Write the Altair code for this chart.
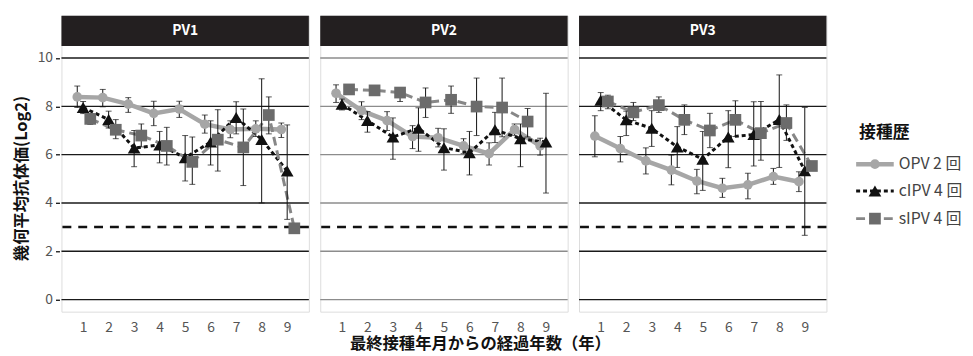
import altair as alt
import pandas as pd

FONT = "Noto Sans CJK JP"

panels = ["PV1", "PV2", "PV3"]
years = [1, 2, 3, 4, 5, 6, 7, 8, 9]
series = ["OPV 2回", "cIPV 4回", "sIPV 4回"]
legend_labels = ["OPV 2 回", "cIPV 4 回", "sIPV 4 回"]
y_ticks = [0, 2, 4, 6, 8, 10]
threshold = 3

# ---- PV1 ----
pv1_opv = [8.39, 8.36, 8.09, 7.71, 7.89, 7.26, 7.04, 7.07, 7.04]
pv1_opv_lo = [7.95, 7.98, 7.75, 7.20, 7.54, 6.89, 6.70, 6.75, 6.71]
pv1_opv_hi = [8.84, 8.70, 8.36, 8.21, 8.21, 7.64, 7.40, 7.40, 7.31]
pv1_cipv = [7.95, 7.45, 6.27, 6.40, 5.87, 6.52, 7.54, 6.63, 5.32]
pv1_cipv_lo = [7.70, 7.10, 5.50, 5.66, 4.91, 5.57, 6.86, 4.00, 3.32]
pv1_cipv_hi = [8.20, 7.80, 7.00, 6.96, 6.79, 7.40, 8.19, 9.14, 7.23]
pv1_sipv = [7.48, 7.03, 6.79, 6.36, 5.70, 6.62, 6.30, 7.64, 2.95]
pv1_sipv_lo = [7.25, 6.66, 6.32, 5.57, 4.77, 5.32, 4.72, 6.86, None]
pv1_sipv_hi = [7.70, 7.45, 7.27, 7.13, 6.73, 7.86, 7.89, 8.39, None]

# ---- PV2 ----
pv2_opv = [8.54, 7.82, 7.41, 6.75, 6.70, 6.36, 6.04, 7.04, 6.36]
pv2_opv_lo = [8.16, 7.45, 7.00, 6.25, 6.32, 6.04, 5.57, 6.80, 5.98]
pv2_opv_hi = [8.89, 8.19, 7.78, 7.20, 7.09, 6.66, 6.49, 7.27, 6.68]
pv2_cipv = [8.09, 7.41, 6.73, 7.09, 6.29, 6.08, 7.03, 6.66, 6.52]
pv2_cipv_lo = [7.85, 6.93, 5.81, 6.14, 5.36, 5.16, 6.50, 5.50, 4.41]
pv2_cipv_hi = [8.30, 7.78, 7.52, 7.94, 7.07, 6.96, 7.75, 7.27, 8.54]
pv2_sipv = [8.70, 8.66, 8.57, 8.16, 8.27, 7.99, 7.95, 7.37, None]
pv2_sipv_lo = [8.55, 8.55, 8.20, 7.54, 7.71, 6.79, 6.74, 6.73, None]
pv2_sipv_hi = [8.85, 8.80, 8.77, 8.76, 8.84, 9.17, 9.17, 7.91, None]

# ---- PV3 ----
pv3_opv = [6.77, 6.25, 5.74, 5.36, 4.91, 4.61, 4.75, 5.09, 4.88]
pv3_opv_lo = [5.91, 5.70, 5.20, 4.75, 4.38, 4.23, 4.17, 4.77, 4.47]
pv3_opv_hi = [7.61, 6.75, 6.28, 5.98, 5.39, 5.02, 5.23, 5.43, 5.29]
pv3_cipv = [8.25, 7.44, 7.09, 6.32, 5.81, 6.73, 6.83, 7.45, 5.33]
pv3_cipv_lo = [7.82, 6.79, 6.34, 5.47, 4.52, 5.46, 5.53, 5.47, 2.66]
pv3_cipv_hi = [8.57, 7.80, 7.82, 7.16, 6.96, 7.82, 8.19, 9.30, 7.95]
pv3_sipv = [8.20, 7.75, 8.05, 7.44, 7.00, 7.44, 6.89, 7.31, 5.53]
pv3_sipv_lo = [7.90, 7.41, 7.75, 6.83, 6.29, 6.75, 5.77, 6.59, None]
pv3_sipv_hi = [8.46, 8.16, 8.39, 8.06, 7.71, 8.23, 8.20, 8.06, None]

values = {
    ("PV1", "OPV 2回"): (pv1_opv, pv1_opv_lo, pv1_opv_hi),
    ("PV1", "cIPV 4回"): (pv1_cipv, pv1_cipv_lo, pv1_cipv_hi),
    ("PV1", "sIPV 4回"): (pv1_sipv, pv1_sipv_lo, pv1_sipv_hi),
    ("PV2", "OPV 2回"): (pv2_opv, pv2_opv_lo, pv2_opv_hi),
    ("PV2", "cIPV 4回"): (pv2_cipv, pv2_cipv_lo, pv2_cipv_hi),
    ("PV2", "sIPV 4回"): (pv2_sipv, pv2_sipv_lo, pv2_sipv_hi),
    ("PV3", "OPV 2回"): (pv3_opv, pv3_opv_lo, pv3_opv_hi),
    ("PV3", "cIPV 4回"): (pv3_cipv, pv3_cipv_lo, pv3_cipv_hi),
    ("PV3", "sIPV 4回"): (pv3_sipv, pv3_sipv_lo, pv3_sipv_hi),
}

grid_color = {"PV1": "#1a1a1a", "PV2": "#8c8c8c", "PV3": "#1a1a1a"}

# ---- styles (kept apart from data) ----
STYLE = {
    "OPV 2回": dict(line="#a6a6a6", width=4.5, dash=None, mark="#a6a6a6",
                   shape="circle", size=95, off=-0.23),
    "cIPV 4回": dict(line="#111111", width=3, dash=[4, 3], mark="#111111",
                    shape="triangle-up", size=165, off=0.0),
    "sIPV 4回": dict(line="#878787", width=3, dash=[9, 5], mark="#6b6b6b",
                    shape="square", size=140, off=0.28),
}

rows = []
for (p, s), (m, lo, hi) in values.items():
    for x, v, l, h in zip(years, m, lo, hi):
        if v is not None:
            rows.append(dict(kind="pt", panel=p, series=s, x=x, y=v))
        if l is not None and h is not None:
            rows.append(dict(kind="err", panel=p, series=s, x=x, lo=l, hi=h))
for p in panels:
    for t in y_ticks:
        rows.append(dict(kind="grid", panel=p, y=t, gcol=grid_color[p]))
    rows.append(dict(kind="thr", panel=p, y=threshold))
    rows.append(dict(kind="hdr", panel=p))
df = pd.DataFrame(rows)

W, H = 250, 299
XMIN, XMAX = 0.15, 9.85
YMIN, YMAX = -0.5, 11.75
HDR_LO = 10.5

xscale = alt.Scale(domain=[XMIN, XMAX], nice=False, zero=False)
yscale = alt.Scale(domain=[YMIN, YMAX], nice=False, zero=False)
xaxis = alt.Axis(values=years, title=None, ticks=False, domain=False, grid=False,
                 labelFontSize=14, labelColor="#555555", labelPadding=8, format="d",
                 labelFont=FONT)
yaxis = alt.Axis(values=y_ticks, title="幾何平均抗体価(Log2)", grid=False, domain=False,
                 tickSize=4, tickColor="#111111", tickWidth=1.3,
                 labelFontSize=14, labelColor="#555555", labelPadding=3, labelFont=FONT,
                 titleFontSize=16.5, titleFontWeight="bold", titleColor="#111111",
                 titlePadding=8, titleY=164, titleFont=FONT)

base = alt.Chart()

grid = base.mark_rule(strokeWidth=1.4).encode(
    y=alt.Y("y:Q", scale=yscale, axis=yaxis),
    color=alt.Color("gcol:N", scale=None),
).transform_filter(alt.datum.kind == "grid")

thr = base.mark_rule(strokeWidth=2.5, strokeDash=[9, 7], color="#111111").encode(
    y=alt.Y("y:Q", scale=yscale, axis=yaxis),
).transform_filter(alt.datum.kind == "thr")

hdr = base.mark_rect(color="#231f20").encode(
    x=alt.value(0), x2=alt.value(W),
    y=alt.datum(YMAX), y2=alt.datum(HDR_LO),
).transform_filter(alt.datum.kind == "hdr")

hdr_text = base.mark_text(color="white", fontWeight="bold", fontSize=14, font=FONT,
                          baseline="middle").encode(
    x=alt.value(W / 2),
    y=alt.datum((YMAX + HDR_LO) / 2),
    text="panel:N",
).transform_filter(alt.datum.kind == "hdr")

line_layers, err_layers, pt_layers = [], [], []
for s in series:
    st = STYLE[s]
    sel = (alt.datum.series == s)
    calc = {"xo": f"datum.x + ({st['off']})"}
    lkw = dict(color=st["line"], strokeWidth=st["width"])
    if st["dash"]:
        lkw["strokeDash"] = st["dash"]
    line_layers.append(
        base.mark_line(**lkw).encode(
            x=alt.X("xo:Q", scale=xscale, axis=xaxis),
            y=alt.Y("y:Q", scale=yscale, axis=yaxis),
            order="x:Q",
        ).transform_filter(alt.datum.kind == "pt").transform_filter(sel)
        .transform_calculate(**calc)
    )
    eb = base.transform_filter(alt.datum.kind == "err").transform_filter(sel).transform_calculate(**calc)
    err_layers.append(
        eb.mark_rule(color="#111111", strokeWidth=1).encode(
            x=alt.X("xo:Q", scale=xscale, axis=xaxis),
            y=alt.Y("lo:Q", scale=yscale, axis=yaxis),
            y2="hi:Q",
        )
    )
    for f in ["lo", "hi"]:
        err_layers.append(
            eb.mark_tick(color="#111111", orient="horizontal", size=6, thickness=1).encode(
                x=alt.X("xo:Q", scale=xscale, axis=xaxis),
                y=alt.Y(f"{f}:Q", scale=yscale, axis=yaxis),
            )
        )
    pt_layers.append(
        base.mark_point(shape=st["shape"], size=st["size"], filled=True,
                        color=st["mark"], opacity=1).encode(
            x=alt.X("xo:Q", scale=xscale, axis=xaxis),
            y=alt.Y("y:Q", scale=yscale, axis=yaxis),
        ).transform_filter(alt.datum.kind == "pt").transform_filter(sel)
        .transform_calculate(**calc)
    )

layered = alt.layer(grid, thr, hdr, hdr_text, *line_layers, *err_layers, *pt_layers,
                    data=df).properties(width=W, height=H)

facet = layered.facet(
    column=alt.Column("panel:N", title=None, header=alt.Header(labels=False),
                      sort=panels),
    spacing=7.5,
)

# ---- manual legend ----
legend_title = "接種歴"
LEG_W = 110
leg_row_y = [150, 177, 205]
leg_title_y = 119
leg_df = pd.DataFrame(
    [dict(kind="item", key=s, label=lab, ly=yy)
     for s, lab, yy in zip(series, legend_labels, leg_row_y)]
    + [dict(kind="title", key="", label=legend_title, ly=leg_title_y)]
)
ly = alt.Scale(domain=[H, 0], nice=False, zero=False)
lbase = alt.Chart(leg_df)
leg_layers = [
    lbase.mark_text(fontSize=17, fontWeight="bold", font=FONT, align="left",
                    baseline="middle", color="#111111").encode(
        x=alt.value(8), y=alt.Y("ly:Q", scale=ly, axis=None), text="label:N",
    ).transform_filter(alt.datum.kind == "title")
]
for s in series:
    st = STYLE[s]
    sel = (alt.datum.key == s)
    lkw = dict(color=st["line"], strokeWidth=st["width"])
    if st["dash"]:
        lkw["strokeDash"] = st["dash"]
    leg_layers.append(
        lbase.mark_rule(**lkw).encode(
            x=alt.value(5), x2=alt.value(43), y=alt.Y("ly:Q", scale=ly, axis=None),
        ).transform_filter(sel)
    )
    leg_layers.append(
        lbase.mark_point(shape=st["shape"], size=st["size"], filled=True,
                         color=st["mark"], opacity=1).encode(
            x=alt.value(24), y=alt.Y("ly:Q", scale=ly, axis=None),
        ).transform_filter(sel)
    )
    leg_layers.append(
        lbase.mark_text(fontSize=16, font=FONT, align="left", baseline="middle",
                        color="#444444").encode(
            x=alt.value(48), y=alt.Y("ly:Q", scale=ly, axis=None), text="label:N",
        ).transform_filter(sel)
    )
legend = alt.layer(*leg_layers).properties(
    width=LEG_W, height=H, view=alt.ViewBackground(stroke="transparent"))

chart = alt.hconcat(facet, legend, spacing=22).properties(
    title=alt.TitleParams("最終接種年月からの経過年数（年）", orient="bottom",
                          anchor="start", dx=340, offset=2, fontSize=16.5,
                          fontWeight="bold", color="#111111", font=FONT),
    padding={"left": 5, "top": 5, "right": 2, "bottom": 2},
).configure_view(stroke="#6e6e6e", strokeWidth=1.5).configure(font=FONT)

chart.save("out.html", embed_options={"renderer": "svg", "actions": False})
